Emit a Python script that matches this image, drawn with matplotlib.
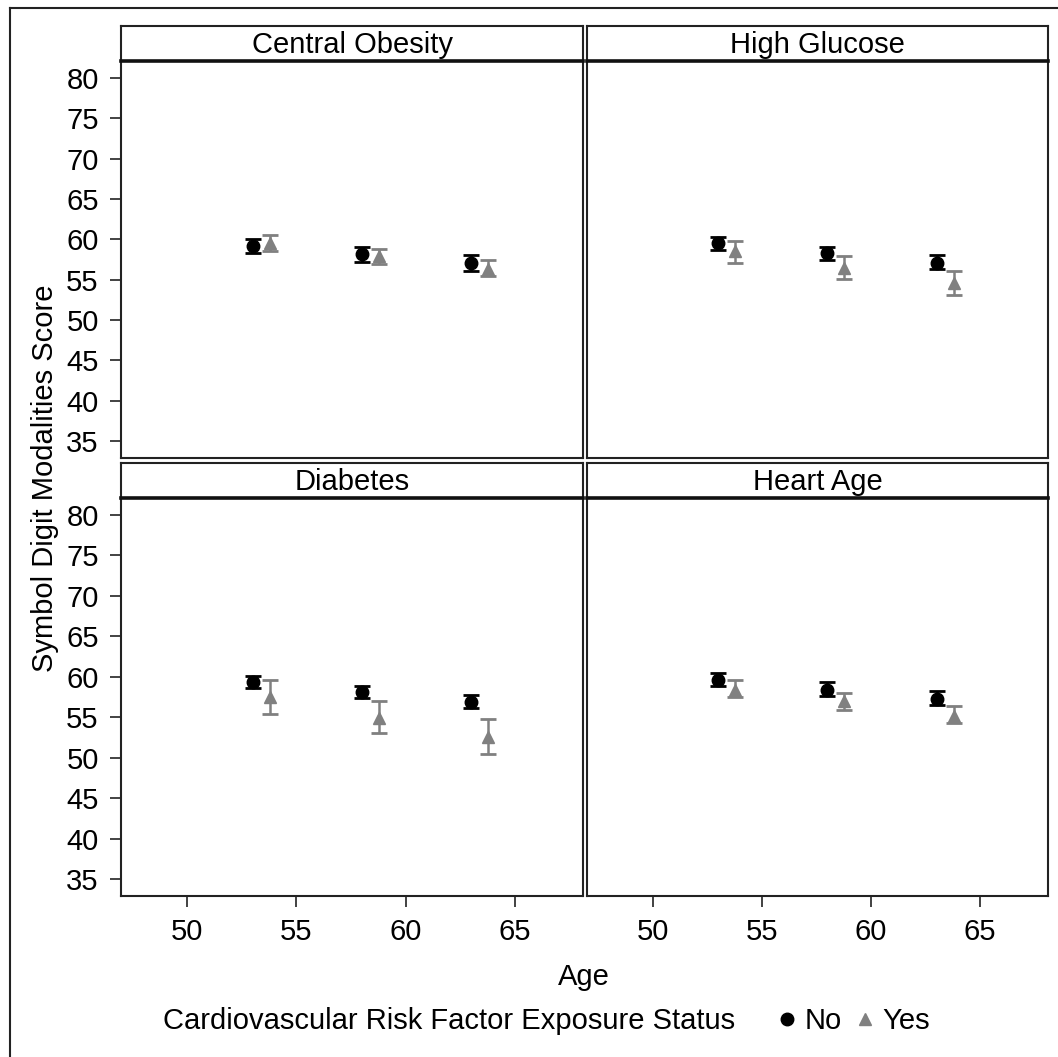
import matplotlib
matplotlib.use("Agg")
import matplotlib.pyplot as plt
from matplotlib.lines import Line2D

plt.rcParams["font.family"] = ["Liberation Sans", "DejaVu Sans"]

# data (means and CI limits)
panels = ["Central Obesity", "High Glucose", "Diabetes", "Heart Age"]
ages = [53, 58, 63]

no_mean = {
    "Central Obesity": [59.2, 58.15, 57.1],
    "High Glucose":    [59.5, 58.3, 57.1],
    "Diabetes":        [59.35, 58.1, 56.9],
    "Heart Age":       [59.6, 58.4, 57.3],
}
no_lo = {
    "Central Obesity": [58.3, 57.2, 56.1],
    "High Glucose":    [58.7, 57.5, 56.3],
    "Diabetes":        [58.6, 57.4, 56.1],
    "Heart Age":       [58.8, 57.65, 56.5],
}
no_hi = {
    "Central Obesity": [60.1, 59.0, 58.0],
    "High Glucose":    [60.3, 59.1, 58.0],
    "Diabetes":        [60.1, 58.9, 57.7],
    "Heart Age":       [60.5, 59.3, 58.2],
}
yes_mean = {
    "Central Obesity": [59.5, 57.9, 56.3],
    "High Glucose":    [58.5, 56.5, 54.6],
    "Diabetes":        [57.5, 54.9, 52.5],
    "Heart Age":       [58.4, 57.0, 55.2],
}
yes_lo = {
    "Central Obesity": [58.5, 57.0, 55.4],
    "High Glucose":    [57.1, 55.1, 53.1],
    "Diabetes":        [55.4, 53.0, 50.4],
    "Heart Age":       [57.5, 55.9, 54.3],
}
yes_hi = {
    "Central Obesity": [60.5, 58.85, 57.4],
    "High Glucose":    [59.8, 57.9, 56.1],
    "Diabetes":        [59.55, 57.0, 54.8],
    "Heart Age":       [59.55, 58.0, 56.4],
}

x_ticks = [50, 55, 60, 65]
y_ticks = [35, 40, 45, 50, 55, 60, 65, 70, 75, 80]

W, H = 1058, 1057
DODGE = 0.78
FS = 21
EDGE = "#222222"
GRAY = "#808080"

fig = plt.figure(figsize=(W / 100, H / 100), dpi=100)
fig.patch.set_facecolor("white")


def px_box(x0, y0, x1, y1):
    return [x0 / W, 1 - y1 / H, (x1 - x0) / W, (y1 - y0) / H]


cols = [(121, 583), (587, 1048)]
rows = [(61, 458, 26), (498, 896, 463)]

for k, name in enumerate(panels):
    r, c = divmod(k, 2)
    x0, x1 = cols[c]
    y0, y1, hy = rows[r]
    ax = fig.add_axes(px_box(x0, y0, x1, y1))
    ax.set_xlim(46.98, 68.11)
    ax.set_ylim(32.89, 82.11)
    for s in ax.spines.values():
        s.set_color(EDGE)
        s.set_linewidth(1.5)
    ax.spines["top"].set_visible(False)

    # No
    m = no_mean[name]
    ax.errorbar(ages, m,
                yerr=[[a - b for a, b in zip(m, no_lo[name])],
                      [b - a for a, b in zip(m, no_hi[name])]],
                fmt="o", color="black", ms=9, capsize=6, capthick=2,
                elinewidth=1.8, zorder=3)
    # Yes
    m = yes_mean[name]
    ax.errorbar([a + DODGE for a in ages], m,
                yerr=[[a - b for a, b in zip(m, yes_lo[name])],
                      [b - a for a, b in zip(m, yes_hi[name])]],
                fmt="^", color=GRAY, ms=9, capsize=6, capthick=2,
                elinewidth=1.8, zorder=3)

    ax.set_xticks(x_ticks)
    ax.set_yticks(y_ticks)
    ax.tick_params(direction="out", length=8, width=1.2, color=EDGE,
                   labelsize=FS, pad=8)
    if c == 1:
        ax.tick_params(axis="y", left=False, labelleft=False)
    if r == 0:
        ax.tick_params(axis="x", bottom=False, labelbottom=False)

    # header strip
    hax = fig.add_axes(px_box(x0, hy, x1, y0))
    hax.patch.set_alpha(0)
    hax.set_xticks([])
    hax.set_yticks([])
    for s in hax.spines.values():
        s.set_color(EDGE)
        s.set_linewidth(1.5)
    hax.spines["bottom"].set_linewidth(2.6)
    hax.spines["bottom"].set_color("#111111")
    hax.text(0.5, 0.47, name, ha="center", va="center", fontsize=FS,
             transform=hax.transAxes)

# outer frame (only top and left fall inside the image)
fig.add_artist(Line2D([10 / W, 10 / W], [0, 1 - 8 / H], color=EDGE, lw=1.5))
fig.add_artist(Line2D([10 / W, 1], [1 - 8 / H, 1 - 8 / H], color=EDGE, lw=1.5))

fig.text(45 / W, 1 - 478 / H, "Symbol Digit Modalities Score", rotation=90,
         ha="center", va="center", fontsize=FS)
fig.text(584 / W, 1 - 977 / H, "Age", ha="center", va="center", fontsize=FS)

fig.text(163 / W, 1 - 1021 / H, "Cardiovascular Risk Factor Exposure Status",
         ha="left", va="center", fontsize=FS)
handles = [
    Line2D([], [], ls="none", marker="o", color="black", ms=9, label="No"),
    Line2D([], [], ls="none", marker="^", color=GRAY, ms=9, label="Yes"),
]
fig.legend(handles=handles, loc="center left", bbox_to_anchor=(778 / W, 1 - 1021 / H),
           ncol=2, frameon=False, fontsize=FS, handlelength=0.6,
           handletextpad=0.3, columnspacing=0.5, borderpad=0, borderaxespad=0)

fig.savefig("out.png", dpi=100, facecolor="white")
